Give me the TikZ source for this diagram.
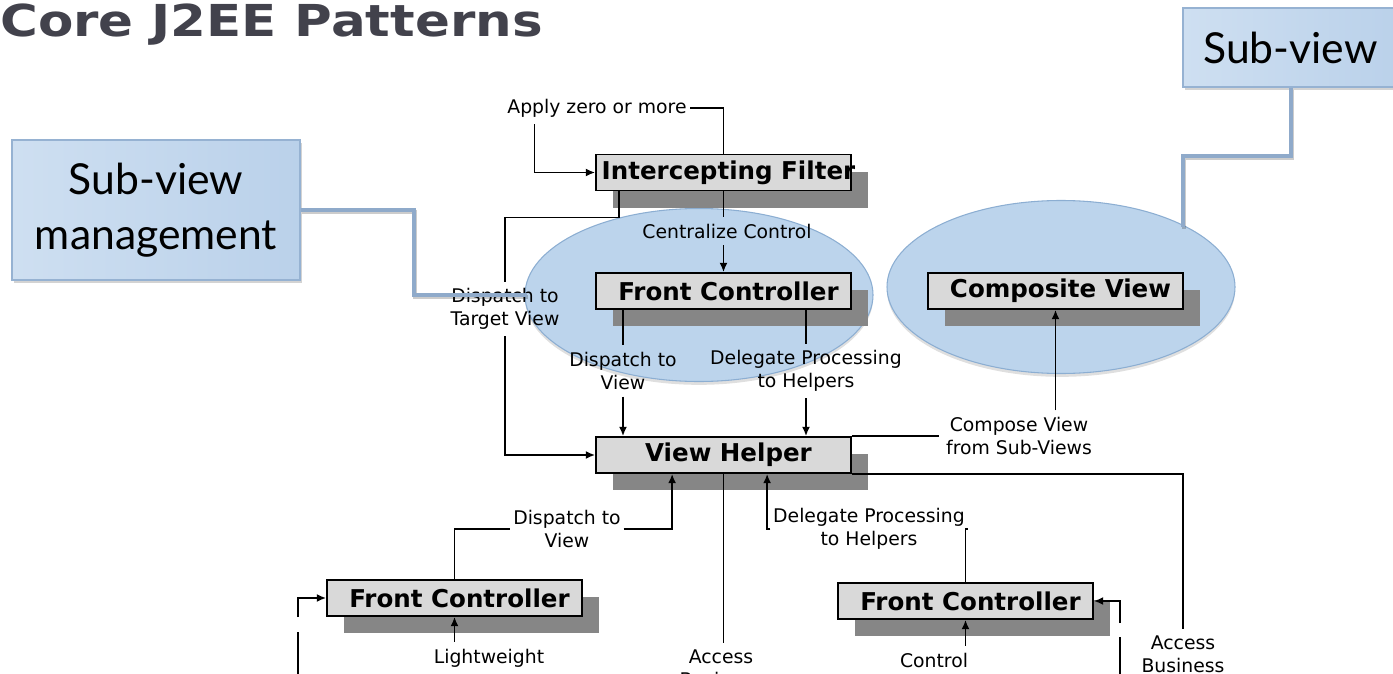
\documentclass[tikz,border=0pt]{standalone}
\usepackage{fontspec}
\setmainfont{DejaVu Sans}
\newfontfamily\calloutfont{Lato}
\usetikzlibrary{arrows.meta,calc,shapes.geometric,shadows}

\definecolor{titlegray}{RGB}{66,66,76}
\definecolor{ovalfill}{RGB}{188,212,236}
\definecolor{ovaledge}{RGB}{140,174,210}
\definecolor{calloutA}{RGB}{206,223,241}
\definecolor{calloutB}{RGB}{186,209,234}
\definecolor{calloutedge}{RGB}{150,178,210}
\definecolor{calloutline}{RGB}{143,170,202}
\definecolor{boxfill}{RGB}{217,217,217}
\definecolor{boxshade}{RGB}{134,134,134}

\begin{document}
\begin{tikzpicture}[x=0.75pt,y=-0.75pt,
  every node/.style={inner sep=0pt},
  wire/.style={line width=1.3pt, draw=black},
  arr/.style={wire, -{Latex[length=7pt,width=6pt]}},
  pattern box/.style={draw=black, line width=1.3pt, fill=boxfill,
    minimum width=191.25pt, minimum height=27pt,
    drop shadow={shadow xshift=12.75pt, shadow yshift=-12.75pt, fill=boxshade, opacity=1}},
  boxtext/.style={font=\fontsize{18.4}{22}\selectfont\bfseries, xshift=3.75pt},
  lbl/.style={font=\fontsize{14.1}{17}\selectfont, align=center, inner xsep=2pt, inner ysep=5pt},
  oval/.style={ellipse, minimum width=261pt, minimum height=129.75pt,
    fill=ovalfill, draw=ovaledge, line width=0.8pt,
    drop shadow={opacity=0.25, shadow xshift=0pt, shadow yshift=-2.5pt}},
  callout/.style={rectangle, draw=calloutedge, line width=0.8pt,
    left color=calloutA, right color=calloutB,
    drop shadow={opacity=0.35, shadow xshift=1.5pt, shadow yshift=-2.5pt},
    font=\calloutfont\fontsize{32}{41}\selectfont, align=center},
  leader/.style={draw=calloutline, line width=3pt,
    preaction={draw=black, opacity=0.2, line width=3pt, transform canvas={shift={(1pt,-1.5pt)}}}}
]
\useasboundingbox (0,0) rectangle (1393,674);

% grouping ovals behind the pattern diagram
\node[oval] (fcoval) at (699,295) {};
\node[oval] (cvoval) at (1061,287) {};

% heading
\node[anchor=base west, text=titlegray, font=\bfseries\fontsize{33}{40}\selectfont] (title) at (0,37)
  {\scalebox{1.17}[1]{Core J2EE Patterns}};

% pattern boxes
\node[pattern box, label={[boxtext]center:Intercepting Filter}] (if) at (723.5,172.5) {};
\node[pattern box, label={[boxtext]center:Front Controller}] (fc1) at (723.5,291) {};
\node[pattern box, label={[boxtext]center:Composite View}] (cvb) at (1055.5,291) {};
\node[pattern box, label={[boxtext]center:View Helper}] (vh) at (723.5,455) {};
\node[pattern box, label={[boxtext]center:Front Controller}] (fc2) at (454.5,598) {};
\node[pattern box, label={[boxtext]center:Front Controller}] (fc3) at (965.5,601) {};

% relationship labels
\node[lbl] (applyz) at (597,108) {Apply zero or more};
\node[lbl] (cc) at (727,231) {Centralize Control};
\node[lbl] (dtv) at (505,309) {Dispatch to\\Target View};
\node[lbl] (dv1) at (623,371) {Dispatch to\\View};
\node[lbl] (dp1) at (806,371) {Delegate Processing\\to Helpers};
\node[lbl, inner xsep=5pt] (cv) at (1019,436) {Compose View\\from Sub-Views};
\node[lbl] (dv2) at (567,529) {Dispatch to\\View};
\node[lbl] (dp2) at (869,529) {Delegate Processing\\to Helpers};
\node[lbl] (ab1) at (721,668) {Access\\Business};
\node[lbl] (ab2) at (1183,654) {Access\\Business};
\node[lbl] (lw) at (489,658) {Lightweight};
\node[lbl] (ctl) at (934,660) {Control};

% ports and loose ends
\coordinate (vhdv) at ($(vh.south west)+(77,0)$);
\coordinate (vhdp) at ($(vh.south west)+(172,0)$);
\coordinate (inL) at (298,617);
\coordinate (inLlow) at (298,632);
\coordinate (inLend) at (298,690);
\coordinate (inR) at (1120,623);
\coordinate (inRlow) at (1120,637);
\coordinate (inRend) at (1120,690);

% connectors
\draw[wire] (if.north) |- (applyz.east);
\draw[arr] ([xshift=22.5pt]applyz.south west) |- (if.west);
\draw[wire] ($(if.south west)+(24,0)$) -- ++(0,26) -| (dtv.north);
\draw[arr] (dtv.south) |- (vh.west);
\draw[wire] (if.south) -- (if.south |- cc.north);
\draw[arr] (if.south |- cc.south) -- (fc1.north);
\draw[wire] (dv1.north |- fc1.south) -- (dv1.north);
\draw[arr] (dv1.south) -- (dv1.south |- vh.north);
\draw[wire] (dp1.north |- fc1.south) -- (dp1.north);
\draw[arr] (dp1.south) -- (dp1.south |- vh.north);
\draw[wire] (vh.north east) -- (vh.north east -| cv.west);
\draw[arr] (cvb.south |- cv.north) -- (cvb.south);
\draw[wire] (vh.south east) -| (ab2.north);
\draw[wire] (fc2.north) |- (dv2.west);
\draw[arr] (dv2.east) -| (vhdv);
\draw[wire] (vh.south) -- (vh.south |- ab1.north);
\draw[wire] (fc3.north) |- (dp2.east);
\draw[arr] (dp2.west) -| (vhdp);
\draw[arr] (fc2.south |- lw.north) -- (fc2.south);
\draw[arr] (fc3.south |- ctl.north) -- (fc3.south);
\draw[arr] (inL) |- (fc2.west);
\draw[wire] (inLlow) -- (inLend);
\draw[arr] (inR) |- (fc3.east);
\draw[wire] (inRlow) -- (inRend);

% callouts
\node[callout, minimum width=216pt, minimum height=105pt] (svm) at (156,210) {Sub-view\\management};
\node[callout, minimum width=161.25pt, minimum height=59.25pt] (sv) at (1290.5,47.5) {Sub-view};
\coordinate (svmend) at (527,295);
\coordinate (svend) at (1183,227);
\draw[leader] (svm.east) -- ++(113,0) |- (svmend);
\draw[leader] (sv.south) -- ++(0,68) -| (svend);
\end{tikzpicture}
\end{document}
